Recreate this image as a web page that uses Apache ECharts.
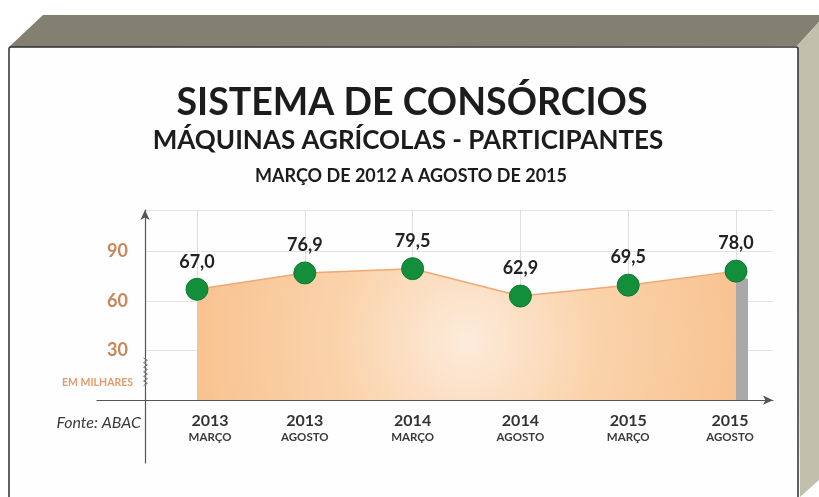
<!DOCTYPE html>
<html>
<head>
<meta charset="utf-8">
<script src="https://cdn.jsdelivr.net/npm/echarts@6/dist/echarts.min.js"></script>
<style>html,body{margin:0;padding:0;background:#fff}#c{width:819px;height:497px}</style>
</head>
<body>
<div id="c"></div>
<script>
const years = ['2013', '2013', '2014', '2014', '2015', '2015'];
const months = ['MARÇO', 'AGOSTO', 'MARÇO', 'AGOSTO', 'MARÇO', 'AGOSTO'];
const participants = [67.0, 76.9, 79.5, 62.9, 69.5, 78.0];
const yTicks = [30, 60, 90];
const titleText = 'SISTEMA DE CONSÓRCIOS';
const subtitleText = 'MÁQUINAS AGRÍCOLAS - PARTICIPANTES';
const periodText = 'MARÇO DE 2012 A AGOSTO DE 2015';
const unitText = 'EM MILHARES';
const sourceText = 'Fonte: ABAC';

const categories = years.map((y, i) => y + '|' + months[i]);
const FONT = 'Lato';
const fmt = v => v.toFixed(1).replace('.', ',');

const chart = echarts.init(document.getElementById('c'), null, {renderer: 'canvas'});

const squiggle = [];
for (let k = 0; k <= 12; k++) squiggle.push([k % 2 === 0 ? 143.5 : 147.5, 358 + k * 2.3]);

const lastIdx = participants.length - 1;

chart.setOption({
  animation: false,
  backgroundColor: '#ffffff',
  graphic: [
    {type: 'polygon', z: -10, shape: {points: [[9, 47], [43, 15], [819, 15], [819, 22], [797, 46]]}, style: {fill: '#848071'}},
    {type: 'polygon', z: -10, shape: {points: [[797, 46], [819, 22], [819, 480], [800, 497]]}, style: {fill: '#c2bfac'}},
    {type: 'rect', z: -9, shape: {x: 9, y: 47, width: 789, height: 470, r: 2}, style: {fill: '#fefefe', stroke: '#2e2e2e', lineWidth: 1.5}},
    {type: 'text', z: 5, style: {x: 412, y: 103, text: titleText, textAlign: 'center', textVerticalAlign: 'middle', font: 'bold 37.5px ' + FONT, fill: '#1c1c1c'}},
    {type: 'text', z: 5, style: {x: 408, y: 141, text: subtitleText, textAlign: 'center', textVerticalAlign: 'middle', font: 'bold 26px ' + FONT, fill: '#1c1c1c'}},
    {type: 'text', z: 5, style: {x: 411, y: 176, text: periodText, textAlign: 'center', textVerticalAlign: 'middle', font: 'bold 18px ' + FONT, fill: '#1c1c1c'}},
    {type: 'text', z: 5, style: {x: 133, y: 383, text: unitText, textAlign: 'right', textVerticalAlign: 'middle', font: 'bold 10.5px ' + FONT, fill: '#e39b6b'}},
    {type: 'text', z: 5, style: {x: 141, y: 423, text: sourceText, textAlign: 'right', textVerticalAlign: 'middle', font: 'italic 16px ' + FONT, fill: '#3a3a3a'}},
    {type: 'polyline', z: 5, shape: {points: squiggle}, style: {stroke: '#7a7a7a', lineWidth: 1, fill: null}}
  ],
  grid: [
    {left: 197, right: 83, top: 210, bottom: 97},
    {left: 145, right: 46, top: 210, bottom: 97},
    {left: 97, right: 46, top: 210, bottom: 34}
  ],
  xAxis: [
    {
      gridIndex: 0, type: 'category', data: categories, boundaryGap: false,
      axisLine: {show: false}, axisTick: {show: false},
      splitLine: {show: true, lineStyle: {color: '#dedede', width: 1}},
      axisLabel: {
        margin: 12,
        formatter: (v, i) => {
          const p = v.split('|');
          const s = i === 0 ? 'L' : (i === lastIdx ? 'R' : '');
          return '{a' + s + '|' + p[0] + '}\n{b' + s + '|' + p[1] + '}';
        },
        rich: {
          a: {fontFamily: FONT, fontWeight: 'bold', fontSize: 16, color: '#333', lineHeight: 18},
          b: {fontFamily: FONT, fontWeight: 'bold', fontSize: 11.5, color: '#3a3a3a', lineHeight: 14},
          aL: {fontFamily: FONT, fontWeight: 'bold', fontSize: 16, color: '#333', lineHeight: 18, padding: [0, 0, 0, 26]},
          bL: {fontFamily: FONT, fontWeight: 'bold', fontSize: 11.5, color: '#3a3a3a', lineHeight: 14, padding: [0, 0, 0, 26]},
          aR: {fontFamily: FONT, fontWeight: 'bold', fontSize: 16, color: '#333', lineHeight: 18, padding: [0, 12, 0, 0]},
          bR: {fontFamily: FONT, fontWeight: 'bold', fontSize: 11.5, color: '#3a3a3a', lineHeight: 14, padding: [0, 12, 0, 0]}
        }
      }
    },
    {gridIndex: 1, type: 'value', min: 0, max: 1, show: false},
    {
      gridIndex: 2, type: 'value', min: -48, max: 628,
      axisLine: {show: true, onZero: true, symbol: ['none', 'arrow'], symbolSize: [7, 10], lineStyle: {color: '#555', width: 1.2}},
      axisTick: {show: false}, axisLabel: {show: false}, splitLine: {show: false}
    }
  ],
  yAxis: [
    {
      gridIndex: 0, type: 'value', min: 0, max: 115, interval: 30, offset: 52,
      axisLine: {show: false}, axisTick: {show: false}, splitLine: {show: false},
      axisLabel: {
        margin: 17,
        formatter: v => (yTicks.indexOf(v) >= 0 ? String(v) : ''),
        fontFamily: FONT, fontWeight: 'bold', fontSize: 18, color: '#c8875a'
      }
    },
    {
      gridIndex: 1, type: 'value', min: 0, max: 115, interval: 30,
      axisLine: {show: false}, axisTick: {show: false}, axisLabel: {show: false},
      splitLine: {show: true, lineStyle: {color: '#e3e3e3', width: 1}}
    },
    {
      gridIndex: 2, type: 'value', min: -38, max: 115,
      axisLine: {show: true, onZero: true, symbol: ['none', 'arrow'], symbolSize: [7, 10], lineStyle: {color: '#555', width: 1.2}},
      axisTick: {show: false}, axisLabel: {show: false}, splitLine: {show: false}
    }
  ],
  series: [
    {
      type: 'custom', xAxisIndex: 0, yAxisIndex: 0, z: 1,
      data: [[lastIdx, participants[lastIdx]]],
      renderItem: (params, api) => {
        const top = api.coord([api.value(0), api.value(1)]);
        const bot = api.coord([api.value(0), 0]);
        return {
          type: 'polygon',
          shape: {points: [[top[0], top[1] + 2], [top[0] + 12, top[1] + 8], [top[0] + 12, bot[1]], [top[0], bot[1]]]},
          style: {fill: '#a9a9a9'}
        };
      }
    },
    {
      type: 'line', xAxisIndex: 0, yAxisIndex: 0, z: 3,
      data: participants,
      symbol: 'circle', symbolSize: 22,
      itemStyle: {color: '#138e3b', borderColor: '#0d7a30', borderWidth: 1},
      lineStyle: {color: '#efa872', width: 1.5},
      areaStyle: {
        opacity: 1,
        color: {
          type: 'radial', x: 0.5, y: 0.55, r: 2.2,
          colorStops: [
            {offset: 0, color: '#fdebdb'},
            {offset: 0.45, color: '#fad3ab'},
            {offset: 1, color: '#f8c18e'}
          ]
        }
      },
      label: {
        show: true, position: 'top', distance: 7,
        formatter: p => fmt(p.value),
        fontFamily: FONT, fontWeight: 'bold', fontSize: 18, color: '#222'
      }
    }
  ]
});
</script>
</body>
</html>
